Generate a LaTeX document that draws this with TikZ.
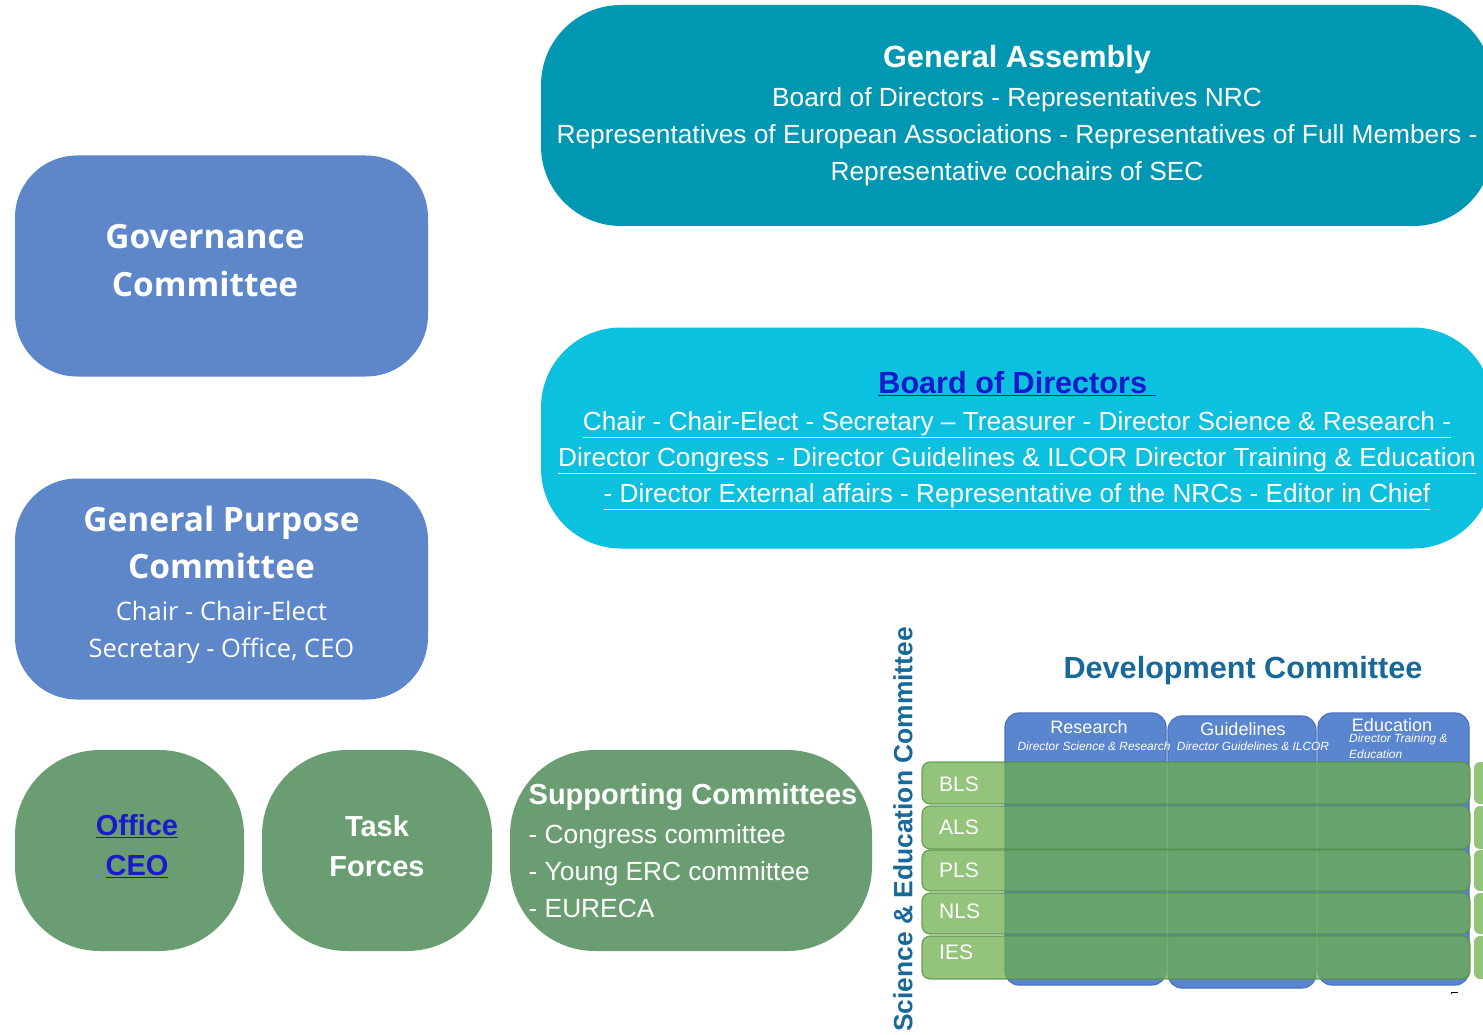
\documentclass[tikz,border=0pt]{standalone}
\usepackage{fontspec}
\setmainfont{Liberation Sans}
\newfontfamily\osans{Open Sans}
\definecolor{gacol}{HTML}{0097B2}
\definecolor{bodcol}{HTML}{0CC0DF}
\definecolor{govcol}{HTML}{5E87C9}
\definecolor{grncol}{HTML}{6A9E72}
\definecolor{linkcol}{HTML}{1A1ACC}
\definecolor{devcol}{HTML}{17699A}
\definecolor{colblue}{HTML}{5A86CF}
\definecolor{colblueb}{HTML}{4A74BE}
\definecolor{rowgrn}{RGB}{111,175,78}
\definecolor{rowgrnb}{RGB}{84,145,66}
\begin{document}
\begin{tikzpicture}[x=1pt,y=-1pt,
  box/.style={rounded corners=#1, inner sep=0pt, text=white, align=center},
  txt/.style={inner sep=0pt, text=white, align=center},
  colbox/.style={fill=colblue, draw=colblueb, line width=1.2pt, rounded corners=14},
  rowbox/.style={fill=rowgrn, fill opacity=0.74, draw=rowgrnb, draw opacity=0.8, line width=1.2pt, rounded corners=8},
  rowlbl/.style={text=white, anchor=west, inner sep=0pt, font=\fontsize{21}{24}\selectfont},
  colttl/.style={text=white, inner sep=0pt, font=\fontsize{18}{20}\selectfont},
  colsub/.style={text=white, inner sep=0pt, font=\fontsize{11.9}{16}\selectfont\itshape}]
\useasboundingbox (0,0) rectangle (1483,1035);
\clip (0,0) rectangle (1483,1035);
\fill[white] (0,0) rectangle (1483,1035);

% top boxes
\node[box=80, fill=gacol, minimum width=952, minimum height=221,
  font=\fontsize{26.3}{37}\selectfont] (ga) at (1017,115.5)
  {{\fontsize{30.7}{37}\selectfont\bfseries General Assembly}\\[2pt]
   Board of Directors - Representatives NRC\\
   Representatives of European Associations - Representatives of Full Members -\\
   Representative cochairs of SEC};

\node[box=80, fill=bodcol, minimum width=952, minimum height=221] (bod) at (1017,438) {};
\node[txt, font=\fontsize{26.2}{36}\selectfont] (bodt) at (1017,440.5)
  {{\fontsize{30.6}{36}\selectfont\bfseries\color{linkcol}\underline{Board of Directors\ }}\\[1pt]
   \underline{Chair - Chair-Elect - Secretary -- Treasurer - Director Science \& Research -}\\
   \underline{Director Congress - Director Guidelines \& ILCOR Director Training \& Education}\\
   \underline{- Director External affairs - Representative of the NRCs - Editor in Chief}};

% left blue boxes
\node[box=62, fill=govcol, minimum width=413, minimum height=221] (gov) at (221.5,266) {};
\node[txt, font=\osans\bfseries\fontsize{33.4}{48}\selectfont] (govt) at (205,261)
  {Governance\\Committee};

\node[box=62, fill=govcol, minimum width=413, minimum height=221] (gp) at (221.5,589) {};
\node[txt, font=\osans\fontsize{25.5}{37}\selectfont] (gpt) at (221.5,584.5)
  {{\bfseries\fontsize{33.5}{47}\selectfont General Purpose}\\[10pt]
   {\bfseries\fontsize{33.5}{47}\selectfont Committee}\\[5pt]
   Chair - Chair-Elect\\
   Secretary - Office, CEO};

% green boxes
\node[box=85, fill=grncol, minimum width=229, minimum height=201] (office) at (129.5,850.5) {};
\node[txt, font=\bfseries\fontsize{29}{40}\selectfont] (officet) at (137,846)
  {\color{linkcol}\underline{Office}\\\color{linkcol}\underline{CEO}};

\node[box=85, fill=grncol, minimum width=230, minimum height=201] (task) at (377,850.5) {};
\node[txt, font=\bfseries\fontsize{29}{40}\selectfont] (taskt) at (377,846)
  {Task\\Forces};

\node[box=85, fill=grncol, minimum width=362, minimum height=201] (supp) at (691,850.5) {};
\node[txt, align=left, font=\fontsize{26.3}{37}\selectfont] (suppt) at (693,851)
  {{\bfseries\fontsize{29}{37}\selectfont Supporting Committees}\\[2pt]
   - Congress committee\\
   - Young ERC committee\\
   - EURECA};

% science & education committee
\node[rotate=90, inner sep=0pt, text=devcol, font=\bfseries\fontsize{26.4}{30}\selectfont] (sec) at (903,829.5)
  {Science \& Education Committee};

\node[inner sep=0pt, text=devcol, font=\bfseries\fontsize{30.6}{34}\selectfont] (dev) at (1243,671)
  {Development Committee};

% columns
\draw[colbox] (1005,713) rectangle (1166,985);
\draw[colbox] (1168,716) rectangle (1316,988);
\draw[colbox] (1318,713) rectangle (1469,985);
\node[colttl] (hres) at (1089,727) {Research};
\node[colsub] (sres) at (1094,746) {Director Science \& Research};
\node[colttl] (hgui) at (1243,729) {Guidelines};
\node[colsub] (sgui) at (1253,746) {Director Guidelines \& ILCOR};
\node[colttl] (hedu) at (1392,725) {Education};
\node[colsub, anchor=north west, align=left] (sedu) at (1349,734) {Director Training \&\\Education};

% rows
\foreach \n/\lbl/\ya/\yb/\yl in {bls/BLS/762/804/784, als/ALS/806/849/827, pls/PLS/850/891/870, nls/NLS/893/934/911, ies/IES/936/979/952}{
  \draw[rowbox] (922,\ya) rectangle (1470,\yb);
  \fill[rowgrn, fill opacity=0.74, rounded corners=6] (1474,\ya) rectangle (1500,\yb);
  \node[rowlbl] (r\n) at (939,\yl) {\lbl};
}
\draw[line width=1pt] (1451,994) -- (1451,992) -- (1458,992);
\end{tikzpicture}
\end{document}
